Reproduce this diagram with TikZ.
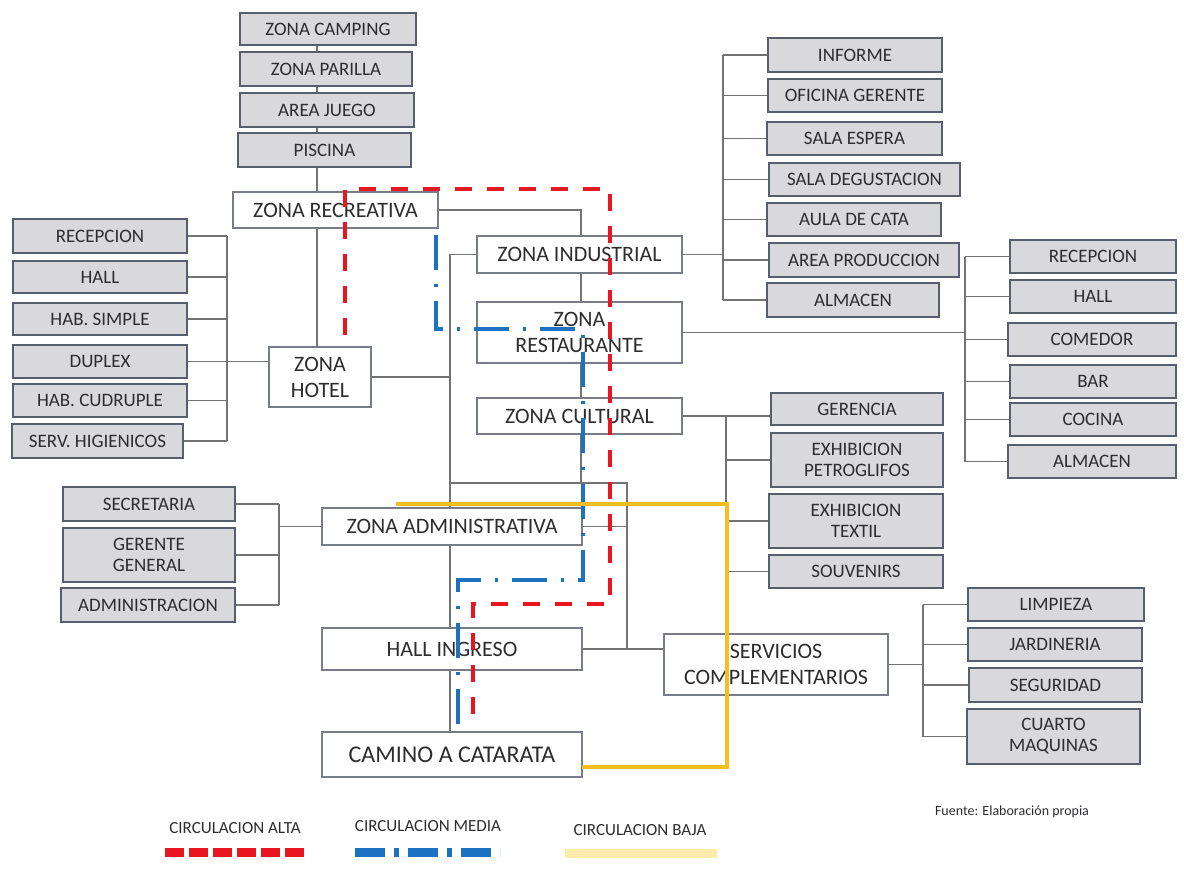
\documentclass[tikz,border=0pt]{standalone}
\usepackage{fontspec}
\setmainfont{Carlito}
\usetikzlibrary{backgrounds}
\definecolor{lineg}{RGB}{115,115,118}
\definecolor{boxb}{RGB}{88,94,110}
\definecolor{boxf}{RGB}{217,217,221}
\definecolor{zoneb}{RGB}{120,124,136}
\definecolor{txt}{RGB}{45,45,48}
\definecolor{cred}{RGB}{232,22,32}
\definecolor{cblue}{RGB}{28,114,192}
\definecolor{cyel}{RGB}{244,190,28}
\definecolor{cyell}{RGB}{255,236,170}
\newcommand{\GBox}[6]{\node[gbox,minimum width=#4pt,minimum height=#5pt] (#1) at (#2,#3) {#6};}
\newcommand{\ZBox}[6]{\node[zbox,minimum width=#4pt,minimum height=#5pt] (#1) at (#2,#3) {#6};}
\begin{document}
\begin{tikzpicture}[x=1pt,y=-1pt,
  conn/.style={draw=lineg, line width=1.1pt},
  gbox/.style={draw=boxb, fill=boxf, line width=1.3pt, inner sep=0pt, align=center, text=txt, font=\fontsize{19}{21}\selectfont},
  zbox/.style={draw=zoneb, fill=white, line width=1.2pt, inner sep=0pt, align=center, text=txt, font=\fontsize{22}{26}\selectfont},
  alta/.style={draw=cred, line width=4.2pt, dash pattern=on 17pt off 15pt},
  media/.style={draw=cblue, line width=4pt, dash pattern=on 35pt off 14pt on 3pt off 14pt},
  baja/.style={draw=cyel, line width=3.6pt},
  legt/.style={text=txt, font=\fontsize{17}{19}\selectfont, inner sep=0pt}]
\useasboundingbox (0,0) rectangle (1184,876);
% top column
\GBox{camp}{328}{29}{176}{32}{ZONA CAMPING}
\GBox{parr}{326}{69}{172}{34}{ZONA PARILLA}
\GBox{jueg}{327}{110}{174}{34}{AREA JUEGO}
\GBox{pisc}{324.5}{150}{173}{34}{PISCINA}
% zones
\ZBox{recre}{335.5}{210}{205}{36}{ZONA RECREATIVA}
\ZBox{hotel}{320}{377}{102}{60}{ZONA\\HOTEL}
\ZBox{ind}{579.5}{254.5}{205}{37}{ZONA INDUSTRIAL}
\ZBox{rest}{579.5}{332.5}{205}{61}{ZONA\\RESTAURANTE}
\ZBox{cult}{579.5}{416}{205}{36}{ZONA CULTURAL}
\ZBox{admz}{452}{526.5}{260}{37}{ZONA ADMINISTRATIVA}
\ZBox{hall}{452}{649}{260}{42}{HALL INGRESO}
\node[zbox,minimum width=260pt,minimum height=45pt,font=\fontsize{24}{26}\selectfont] (cam) at (452,754.5) {CAMINO A CATARATA};
\ZBox{serv}{776}{664.5}{224}{61}{SERVICIOS\\COMPLEMENTARIOS}
% hotel items
\GBox{hrec}{100}{236}{174}{34}{RECEPCION}
\GBox{hhall}{100}{277}{174}{32}{HALL}
\GBox{hsimp}{100}{319}{174}{32}{HAB. SIMPLE}
\GBox{hdup}{100}{361.5}{174}{33}{DUPLEX}
\GBox{hcud}{100}{400.5}{174}{33}{HAB. CUDRUPLE}
\GBox{hserv}{97.5}{441}{171}{34}{SERV. HIGIENICOS}
% industrial items
\GBox{inf}{855}{55}{174}{34}{INFORME}
\GBox{ofi}{855}{95.5}{174}{33}{OFICINA GERENTE}
\GBox{esp}{854.5}{138.5}{175}{33}{SALA ESPERA}
\GBox{deg}{864.5}{179.5}{191}{33}{SALA DEGUSTACION}
\GBox{aula}{854}{219.5}{174}{33}{AULA DE CATA}
\GBox{prod}{864}{260}{190}{34}{AREA PRODUCCION}
\GBox{ialm}{853}{300}{172}{34}{ALMACEN}
% restaurant items
\GBox{rrec}{1093}{256.5}{166}{33}{RECEPCION}
\GBox{rhall}{1093}{296.5}{166}{33}{HALL}
\GBox{rcom}{1092}{339.5}{168}{33}{COMEDOR}
\GBox{rbar}{1093}{381.5}{166}{33}{BAR}
\GBox{rcoc}{1093}{419.5}{166}{33}{COCINA}
\GBox{ralm}{1092}{461.5}{168}{33}{ALMACEN}
% cultural items
\GBox{ger}{857}{409}{172}{32}{GERENCIA}
\GBox{pet}{857}{460}{172}{54}{EXHIBICION\\PETROGLIFOS}
\GBox{tex}{856}{521}{174}{54}{EXHIBICION\\TEXTIL}
\GBox{sou}{856}{571.5}{174}{33}{SOUVENIRS}
% admin items
\GBox{sec}{149}{504}{172}{34}{SECRETARIA}
\GBox{gge}{149}{555}{172}{54}{GERENTE\\GENERAL}
\GBox{adm}{148}{605}{174}{34}{ADMINISTRACION}
% service items
\GBox{lim}{1056}{604.5}{176}{33}{LIMPIEZA}
\GBox{jar}{1055}{644.5}{174}{33}{JARDINERIA}
\GBox{seg}{1055.5}{685}{173}{34}{SEGURIDAD}
\GBox{cua}{1053.5}{736.5}{173}{55}{CUARTO\\MAQUINAS}
% bus coordinates
\coordinate (xa) at (317,0);
\coordinate (trk) at (450,0);
\coordinate (mid) at (581,0);
\coordinate (j1) at (450,483);
\coordinate (j2) at (627,483);
\coordinate (hbus) at (227,0);
\coordinate (ibus) at (723,0);
\coordinate (rbus) at (965,0);
\coordinate (cbus) at (726,0);
\coordinate (abus) at (279,0);
\coordinate (sbus) at (923,0);
\begin{pgfonlayer}{background}
\draw[conn] (camp.south -| xa) -- (recre.north -| xa);
\draw[conn] (recre.south -| xa) -- (hotel.north -| xa);
\draw[conn] (hrec.east -| hbus) -- (hserv.east -| hbus);
\foreach \n in {hrec,hhall,hsimp,hdup,hcud,hserv} \draw[conn] (\n.east) -- (\n.east -| hbus);
\draw[conn] (hdup.east -| hbus) -- (hdup.east -| hotel.west);
\draw[conn] (hotel.east) -- (hotel.east -| trk);
\draw[conn] (ind.west) -- (ind.west -| trk) -- (hall.north -| trk);
\draw[conn] (hall.south -| trk) -- (cam.north -| trk);
\draw[conn] (recre.east) -- (recre.east -| mid) -- (ind.north -| mid);
\draw[conn] (ind.south -| mid) -- (rest.north -| mid);
\draw[conn] (rest.south -| mid) -- (cult.north -| mid);
\draw[conn] (cult.south -| mid) -- (mid |- j1);
\draw[conn] (j1) -- (j2) -- (j2 |- hall.east);
\draw[conn] (admz.east) -- (admz.east -| j2);
\draw[conn] (hall.east) -- (hall.east -| serv.west);
\draw[conn] (ind.east) -- (ind.east -| ibus);
\draw[conn] (inf.west -| ibus) -- (ialm.west -| ibus);
\foreach \n in {inf,ofi,esp,deg,aula,prod,ialm} \draw[conn] (\n.west) -- (\n.west -| ibus);
\draw[conn] (rest.east) -- (rest.east -| rbus);
\draw[conn] (rrec.west -| rbus) -- (ralm.west -| rbus);
\foreach \n in {rrec,rhall,rcom,rbar,rcoc,ralm} \draw[conn] (\n.west) -- (\n.west -| rbus);
\draw[conn] (cult.east) -- (cult.east -| ger.west);
\draw[conn] (cult.east -| cbus) -- (sou.west -| cbus);
\foreach \n in {pet,tex,sou} \draw[conn] (\n.west) -- (\n.west -| cbus);
\draw[conn] (admz.west) -- (admz.west -| abus);
\draw[conn] (sec.east -| abus) -- (adm.east -| abus);
\foreach \n in {sec,gge,adm} \draw[conn] (\n.east) -- (\n.east -| abus);
\draw[conn] (serv.east) -- (serv.east -| sbus);
\draw[conn] (lim.west -| sbus) -- (cua.west -| sbus);
\foreach \n in {lim,jar,seg,cua} \draw[conn] (\n.west) -- (\n.west -| sbus);
\end{pgfonlayer}
% circulation paths
\coordinate (r1) at (345,335); \coordinate (r2) at (345,189); \coordinate (r3) at (610,189);
\coordinate (r4) at (610,604); \coordinate (r5) at (473,604); \coordinate (r6) at (473,727);
\draw[alta] (r1) -- (r2) -- (r3) -- (r4) -- (r5) -- (r6);
\coordinate (b1) at (436,235); \coordinate (b2) at (436,329); \coordinate (b3) at (583,329);
\coordinate (b4) at (583,580); \coordinate (b5) at (458,580); \coordinate (b6) at (458,728);
\draw[media] (b1) -- (b2) -- (b3) -- (b4) -- (b5) -- (b6);
\coordinate (y1) at (396,504); \coordinate (y2) at (727,504); \coordinate (y3) at (727,767); \coordinate (y4) at (582,767);
\draw[baja] (y1) -- (y2) -- (y3) -- (y4);
% source
\node[text=txt, font=\fontsize{14}{16}\selectfont, inner sep=0pt] (src) at (1012,812) {Fuente: Elaboración propia};
% legend
\node[legt] (la) at (235,828) {CIRCULACION ALTA};
\node[legt] (lm) at (428,826) {CIRCULACION MEDIA};
\node[legt] (lb) at (640,830) {CIRCULACION BAJA};
\coordinate (la1) at (165,852); \coordinate (la2) at (308,852);
\coordinate (lm1) at (355,852); \coordinate (lm2) at (500,852);
\coordinate (lb1) at (565,853); \coordinate (lb2) at (717,853);
\draw[draw=cred, line width=9pt, dash pattern=on 19pt off 5pt] (la1) -- (la2);
\draw[draw=cblue, line width=9pt, dash pattern=on 30pt off 9pt on 5pt off 9pt] (lm1) -- (lm2);
\draw[draw=cyell, line width=9pt] (lb1) -- (lb2);
\end{tikzpicture}
\end{document}
